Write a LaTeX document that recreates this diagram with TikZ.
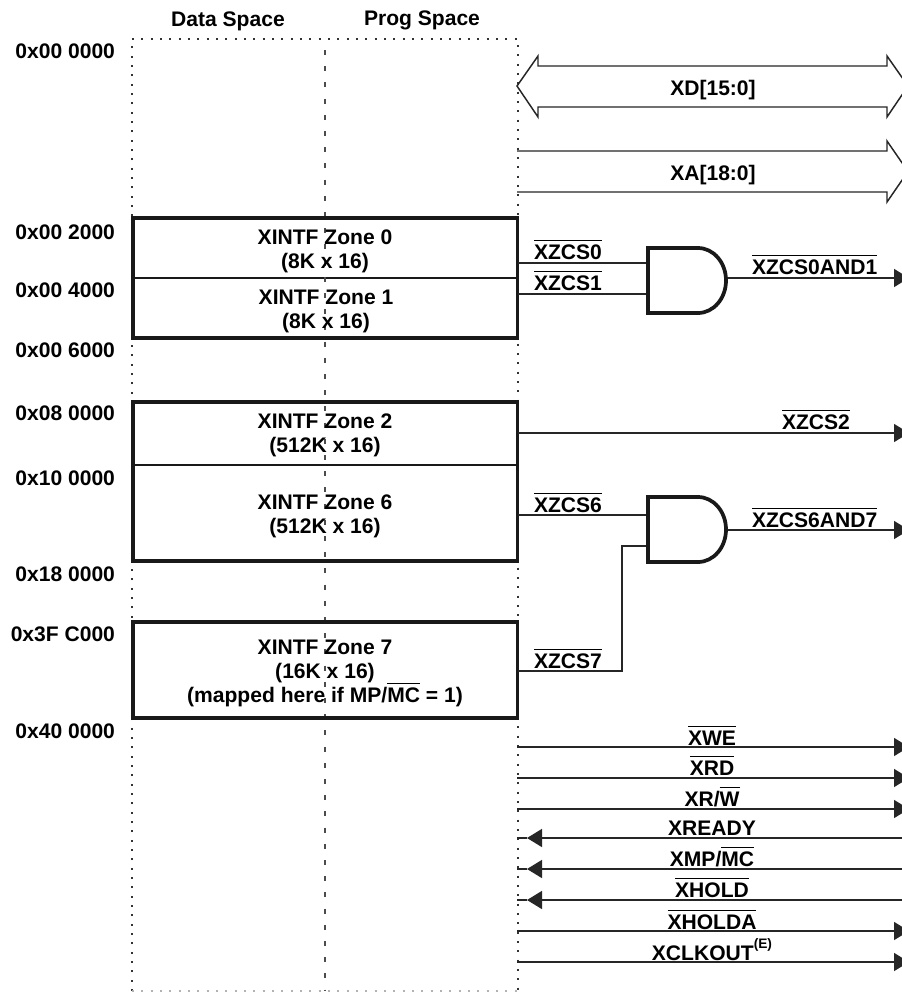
\documentclass[tikz,border=0pt]{standalone}
\usepackage{fontspec}
\setmainfont{Liberation Sans}
\usetikzlibrary{arrows.meta}
\newcommand\ob[1]{\setbox0\hbox{#1}\rlap{\rule[13.2pt]{\wd0}{0.9pt}}\box0 }
\tikzset{
  x=0.75pt,y=-0.75pt,
  txt/.style={font=\fontsize{15.8}{18}\selectfont\bfseries,inner sep=0pt,outer sep=0pt,text=black},
  lab/.style={txt,anchor=base},
  labw/.style={txt,anchor=base west},
  addr/.style={txt,anchor=base east},
  zonebox/.style={draw=black!90,line width=1pt,minimum width=288.4pt,inner sep=0pt,outer sep=0pt,anchor=north west},
  zonetext/.style={txt,align=center,anchor=base},
  heavy/.style={draw=black!90,line width=2.6pt},
  wire/.style={draw=black!85,line width=1.1pt},
  sig/.style={wire,-{Triangle[length=11.25pt,width=13.5pt]}},
  frameline/.style={draw=black!80,line width=1pt,dash pattern=on 1.5pt off 5.5pt},
  framefaint/.style={draw=black!30,line width=1pt,dash pattern=on 1.5pt off 5.5pt},
  midline/.style={draw=black!70,line width=1.3pt,dash pattern=on 3.75pt off 8.4pt},
  gatebody/.style={draw=black!90,line width=2.8pt,line join=miter,fill=white},
  bus/.style={draw=black!85,line width=1.1pt},
}
\begin{document}
\begin{tikzpicture}
\useasboundingbox (0,0) rectangle (902,992);
\clip (0,0) rectangle (902,992);
\fill[white] (0,0) rectangle (902,992);

% headers
\node[lab] (hd) at (228,26.5) {Data Space};
\node[lab] (hp) at (422,26) {Prog Space};

% zones
\node[zonebox,minimum height=45pt] (z0) at (133,218) {};
\node[zonebox,minimum height=45pt] (z1) at (133,278) {};
\node[zonebox,minimum height=47.25pt] (z2) at (133,402) {};
\node[zonebox,minimum height=72pt] (z6) at (133,465) {};
\node[zonebox,minimum height=72pt] (z7) at (133,622) {};

% memory frame
\draw[frameline] (132,991) -- (132,39) -- (518,39) -- (518,991);
\draw[framefaint] (132,991) -- (518,991);
\coordinate (mt) at (325,50);
\coordinate (mb) at (325,991);
\draw[midline] (mt) -- (mb);

\draw[heavy] (z0.north west) rectangle (z1.south east);
\draw[heavy] (z2.north west) rectangle (z6.south east);
\draw[heavy] (z7.north west) rectangle (z7.south east);

\node[zonetext] (t0) at (325,268) {XINTF Zone 0\\(8K x 16)};
\node[zonetext] (t1) at (326,328) {XINTF Zone 1\\(8K x 16)};
\node[zonetext] (t2) at (325,452) {XINTF Zone 2\\(512K x 16)};
\node[zonetext] (t6) at (325,533) {XINTF Zone 6\\(512K x 16)};
\node[zonetext] (t7) at (325,702) {XINTF Zone 7\\(16K x 16)\\(mapped here if MP/\ob{MC} = 1)};

% addresses
\node[addr] (a0) at (115,58) {0x00 0000};
\node[addr] (a1) at (115,239) {0x00 2000};
\node[addr] (a2) at (115,297) {0x00 4000};
\node[addr] (a3) at (115,357) {0x00 6000};
\node[addr] (a4) at (115,420) {0x08 0000};
\node[addr] (a5) at (115,485) {0x10 0000};
\node[addr] (a6) at (115,581) {0x18 0000};
\node[addr] (a7) at (115,641) {0x3F C000};
\node[addr] (a8) at (115,738) {0x40 0000};

% buses
\draw[bus,fill=white] (517,86) -- (538,56) -- (538,66) -- (887,66) -- (887,56) -- (908,86) -- (887,117) -- (887,107) -- (538,107) -- (538,117) -- cycle;
\node[lab] (xd) at (713,95) {XD[15:0]};
\draw[bus] (517,151) -- (887,151) -- (887,141) -- (908,171.5) -- (887,202) -- (887,192) -- (517,192);
\node[lab] (xa) at (713,180) {XA[18:0]};

% gate 0-1
\coordinate (g0a) at (648,263);
\coordinate (g0b) at (648,294);
\coordinate (g0o) at (726,278);
\coordinate (e0) at (909,278);
\coordinate (f0a) at (518,263);
\coordinate (f0b) at (518,294);
\draw[wire] (f0a) -- (g0a);
\draw[wire] (f0b) -- (g0b);
\draw[sig] (g0o) -- (e0);
\draw[gatebody] (648,248) -- (698,248) arc[start angle=90,end angle=-90,x radius=21pt,y radius=24.375pt] -- (648,313) -- cycle;
\node[labw] (l0) at (534,259) {\ob{XZCS0}};
\node[labw] (l1) at (534,290) {\ob{XZCS1}};
\node[labw] (l01) at (752,274) {\ob{XZCS0AND1}};

% zone 2
\coordinate (f2) at (518,433);
\coordinate (e2) at (909,433);
\draw[sig] (f2) -- (e2);
\node[labw] (l2) at (782,429) {\ob{XZCS2}};

% gate 6-7
\coordinate (g1a) at (648,515);
\coordinate (g1b) at (648,546);
\coordinate (g1o) at (726,530);
\coordinate (e1) at (909,530);
\coordinate (f6) at (518,515);
\coordinate (f7) at (518,671);
\draw[wire] (f6) -- (g1a);
\draw[wire] (f7) -- (622,671) -- (622,546) -- (g1b);
\draw[sig] (g1o) -- (e1);
\draw[gatebody] (648,497) -- (698,497) arc[start angle=90,end angle=-90,x radius=21pt,y radius=24.375pt] -- (648,562) -- cycle;
\node[labw] (l6) at (534,512) {\ob{XZCS6}};
\node[labw] (l7) at (534,668) {\ob{XZCS7}};
\node[labw] (l67) at (752,527) {\ob{XZCS6AND7}};

% control signals
\foreach \n/\yy in {a/747,b/778,c/809,d/838,e/869,f/900,g/931,h/962}{
  \coordinate (s\n l) at (517,\yy);
  \coordinate (s\n r) at (909,\yy);
  \coordinate (s\n t) at (527,\yy);
  \coordinate (s\n m) at (902,\yy);
}
\draw[sig] (sal) -- (sar);
\draw[sig] (sbl) -- (sbr);
\draw[sig] (scl) -- (scr);
\draw[sig] (sdm) -- (sdt); \draw[wire] (sdt) -- (sdl);
\draw[sig] (sem) -- (set); \draw[wire] (set) -- (sel);
\draw[sig] (sfm) -- (sft); \draw[wire] (sft) -- (sfl);
\draw[sig] (sgl) -- (sgr);
\draw[sig] (shl) -- (shr);
\node[lab] (s1) at (712,745) {\ob{XWE}};
\node[lab] (s2) at (712,775) {\ob{XRD}};
\node[lab] (s3) at (712,806) {XR/\ob{W}};
\node[lab] (s4) at (712,835) {XREADY};
\node[lab] (s5) at (712,866) {XMP/\ob{MC}};
\node[lab] (s6) at (712,897) {\ob{XHOLD}};
\node[lab] (s7) at (712,929) {\ob{XHOLDA}};
\node[lab] (s8) at (712,960) {XCLKOUT\raisebox{9pt}{\fontsize{10.3}{11}\selectfont (E)}};
\end{tikzpicture}
\end{document}
